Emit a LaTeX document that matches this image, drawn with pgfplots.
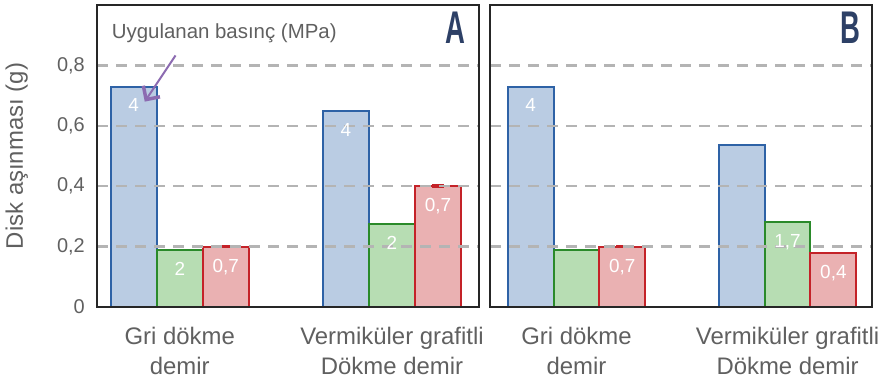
\documentclass[border=0pt]{standalone}
\usepackage{pgfplots}
\pgfplotsset{compat=1.18}
\usetikzlibrary{arrows.meta}
\usepackage{fontspec}
\setmainfont{Liberation Sans}
\definecolor{txt}{HTML}{606060}
\definecolor{blueE}{HTML}{2E62A6}
\definecolor{blueF}{HTML}{BACCE3}
\definecolor{greenE}{HTML}{2A8A2A}
\definecolor{greenF}{HTML}{B7DDB3}
\definecolor{redE}{HTML}{C42228}
\definecolor{redF}{HTML}{EAB1B2}
\definecolor{gridc}{HTML}{B4B4B4}
\definecolor{navy}{HTML}{2D4066}
\definecolor{arrowc}{HTML}{8C6BB1}
\pgfplotsset{
 panel/.style={
  anchor=south west,
  scale only axis, width=382bp, height=302bp,
  ymin=0, ymax=1.0,
  axis line style={line width=1.8bp, color=black!85},
  ytick={0,0.2,0.4,0.6,0.8},
  ymajorgrids,
  grid style={line width=2.4bp, color=gridc, dash pattern=on 11bp off 8bp},
  major tick length=0pt,
  xtick={0,1},
  xticklabels={{Gri dökme\\demir},{Vermiküler grafitli\\Dökme demir}},
  xticklabel style={align=center, font=\fontsize{24}{30}\selectfont, text=txt, inner sep=0pt, yshift=-20bp},
  yticklabel style={font=\fontsize{20}{24}\selectfont, text=txt, inner sep=0pt, xshift=-12bp},
  /pgf/number format/assume math mode=true,
  /pgf/number format/use comma,
  /pgf/number format/fixed,
  axis on top,
  clip=false,
  nodes near coords,
  point meta=explicit symbolic,
  every node near coord/.append style={anchor=north, text=white, font=\fontsize{19}{22}\selectfont, yshift=-8bp},
 },
 bar/.style={ybar, bar width=0.217, bar shift=0pt, line width=2bp},
 bblue/.style={bar, draw=blueE, fill=blueF},
 bgreen/.style={bar, draw=greenE, fill=greenF},
 bred/.style={bar, draw=redE, fill=redF},
 cap/.style={error bars/.cd, y dir=plus, y explicit, error mark=|,
   error bar style={redE, line width=3bp},
   error mark options={redE, line width=3.5bp, mark size=6bp}},
}
\begin{document}
\begin{tikzpicture}
\useasboundingbox (0,0) rectangle (884bp,386bp);
\begin{axis}[panel, at={(97bp,79bp)}, xmin=-0.39, xmax=1.41,
  ylabel={Disk aşınması (g)},
  ylabel style={at={(axis description cs:-0.21,0.5)}, anchor=center, font=\fontsize{24}{28}\selectfont, text=txt}]
\addplot[bblue] coordinates {(-0.217,0.73) [4] (0.783,0.65) [4]};
\addplot[bgreen] coordinates {(0,0.19) [2] (1,0.275) [2]};
\addplot[bred, cap] coordinates {(0.217,0.20) +- (0,0) [{0,7}] (1.217,0.40) +- (0,0) [{0,7}]};
\node[anchor=west, text=txt, font=\fontsize{20.5}{24}\selectfont, inner sep=0pt] at (axis cs:-0.321,0.906) {Uygulanan basınç (MPa)};
\draw[arrowc, line width=2bp, -{Straight Barb[length=10bp,width=20bp,line width=3.5bp]}] (axis cs:-0.02,0.833) -- (axis cs:-0.165,0.68);
\node[text=navy, font=\bfseries\fontsize{46}{46}\selectfont, inner sep=0pt] at (axis cs:1.30,0.925) {\scalebox{0.6}[1]{A}};
\end{axis}
\begin{axis}[panel, at={(490bp,79bp)}, xmin=-0.41, xmax=1.40, yticklabels={}]
\addplot[bblue] coordinates {(-0.217,0.73) [4] (0.783,0.535) [{}]};
\addplot[bgreen] coordinates {(0,0.19) [{}] (1,0.28) [{1,7}]};
\addplot[bred, cap] coordinates {(0.217,0.20) +- (0,0) [{0,7}]};
\addplot[bred] coordinates {(1.217,0.18) [{0,4}]};
\node[text=navy, font=\bfseries\fontsize{46}{46}\selectfont, inner sep=0pt] at (axis cs:1.30,0.925) {\scalebox{0.6}[1]{B}};
\end{axis}
\end{tikzpicture}
\end{document}
